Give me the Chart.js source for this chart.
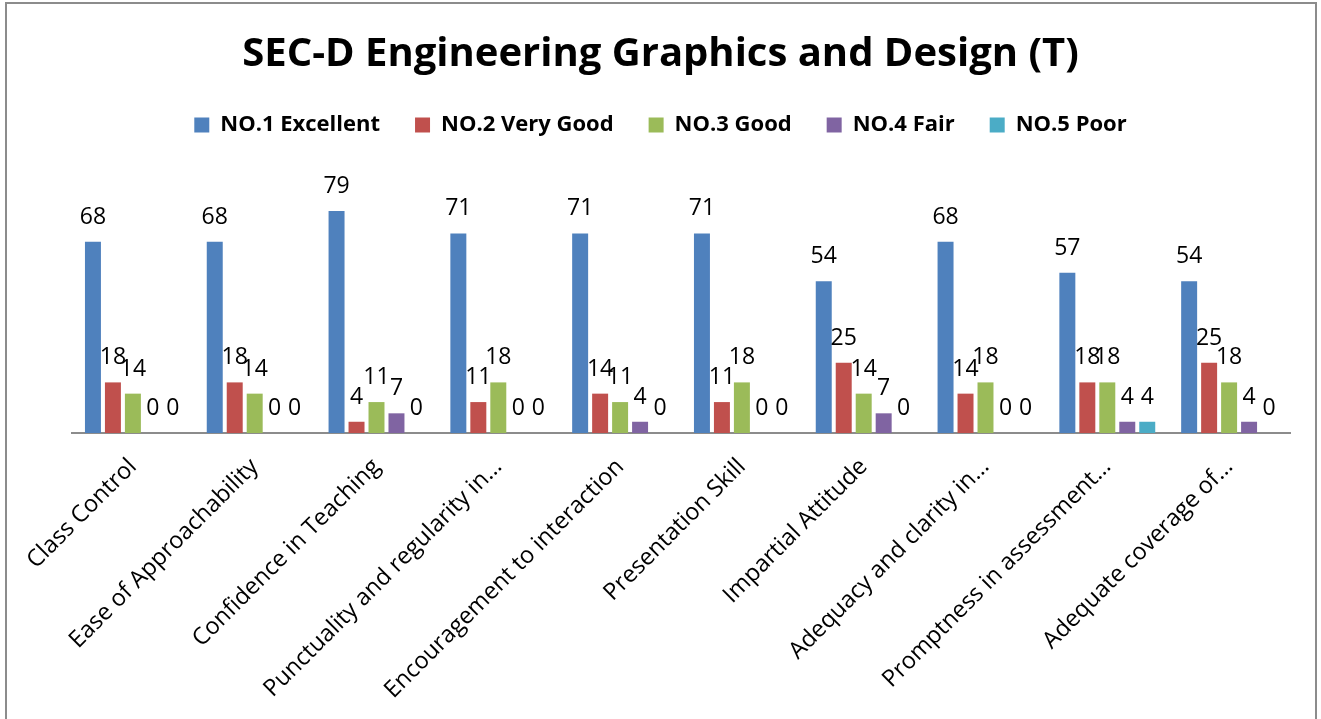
<!DOCTYPE html>
<html>
<head>
<meta charset="utf-8">
<script src="https://cdn.jsdelivr.net/npm/chart.js@4.4.0/dist/chart.umd.min.js"></script>
<style>
  html, body { margin: 0; padding: 0; background: #fff; }
  #wrap { position: relative; width: 1321px; height: 719px; }
</style>
</head>
<body>
<div id="wrap"><canvas id="chart" width="1321" height="719"></canvas></div>
<script>
const categories = [
    'Class Control',
    'Ease of Approachability',
    'Confidence in Teaching',
    'Punctuality and regularity in…',
    'Encouragement to interaction',
    'Presentation Skill',
    'Impartial Attitude',
    'Adequacy and clarity in…',
    'Promptness in assessment…',
    'Adequate coverage of…'
];
const seriesNames = ['NO.1 Excellent', 'NO.2 Very Good', 'NO.3 Good', 'NO.4 Fair', 'NO.5 Poor'];
const excellent = [68, 68, 79, 71, 71, 71, 54, 68, 57, 54];
const veryGood  = [18, 18, 4, 11, 14, 11, 25, 14, 18, 25];
const good      = [14, 14, 11, 18, 11, 18, 14, 18, 18, 18];
const fair      = [0, 0, 7, 0, 4, 0, 7, 0, 4, 4];
const poor      = [0, 0, 0, 0, 0, 0, 0, 0, 4, 0];
const colors = ['#4F81BD', '#C0504D', '#9BBB59', '#8064A2', '#4BACC6'];

const FONT = '"Open Sans", "Liberation Sans", sans-serif';

// grey frame round the whole chart, like the Excel chart border
const frame = {
    id: 'frame',
    beforeDraw(chart) {
        const ctx = chart.ctx;
        ctx.save();
        ctx.fillStyle = '#fff';
        ctx.fillRect(0, 0, chart.width, chart.height);
        ctx.strokeStyle = '#8c8c8c';
        ctx.lineWidth = 2;
        ctx.strokeRect(6, 3, 1310, 760);
        ctx.restore();
    }
};

// value labels above each bar
const barLabels = {
    id: 'barLabels',
    afterDatasetsDraw(chart) {
        const ctx = chart.ctx;
        ctx.save();
        ctx.font = '23px ' + FONT;
        ctx.fillStyle = '#000';
        ctx.textAlign = 'center';
        ctx.textBaseline = 'alphabetic';
        chart.data.datasets.forEach((ds, i) => {
            chart.getDatasetMeta(i).data.forEach((bar, j) => {
                ctx.fillText(String(ds.data[j]), bar.x, bar.y - 18);
            });
        });
        ctx.restore();
    }
};

// extra room under the legend
const legendGap = {
    id: 'legendGap',
    beforeInit(chart) {
        const fit = chart.legend.fit;
        chart.legend.fit = function () {
            fit.bind(chart.legend)();
            this.height += 34;
        };
    }
};

const seriesValues = [excellent, veryGood, good, fair, poor];

new Chart(document.getElementById('chart'), {
    type: 'bar',
    data: {
        labels: categories,
        datasets: seriesNames.map((name, i) => ({
            label: name,
            data: seriesValues[i],
            backgroundColor: colors[i],
            borderWidth: 0,
            categoryPercentage: 0.82,
            barPercentage: 0.8
        }))
    },
    options: {
        responsive: false,
        animation: false,
        devicePixelRatio: 1,
        layout: { padding: { left: 31, right: 31, top: 0, bottom: 0 } },
        plugins: {
            title: {
                display: true,
                text: 'SEC-D Engineering Graphics and Design (T)',
                color: '#000',
                font: { family: FONT, size: 40, weight: 'bold' },
                padding: { top: 31, bottom: 0 }
            },
            legend: {
                display: true,
                position: 'top',
                labels: {
                    color: '#000',
                    boxWidth: 15,
                    boxHeight: 15,
                    padding: 35,
                    font: { family: FONT, size: 22, weight: 'bold' }
                }
            },
            tooltip: { enabled: false }
        },
        scales: {
            x: {
                grid: { display: false },
                border: { display: true, color: '#8c8c8c', width: 2 },
                afterFit(scale) { scale.height = 286; },
                ticks: {
                    autoSkip: false,
                    minRotation: 45,
                    maxRotation: 45,
                    padding: 12,
                    color: '#000',
                    font: { family: FONT, size: 23.5 }
                }
            },
            y: {
                // hidden value axis: keeps its room but draws nothing
                display: true,
                min: 0,
                max: 90,
                grid: { display: false },
                border: { display: false },
                ticks: { display: false },
                afterFit(scale) { scale.width = 41; }
            }
        }
    },
    plugins: [frame, barLabels, legendGap]
});
</script>
</body>
</html>
